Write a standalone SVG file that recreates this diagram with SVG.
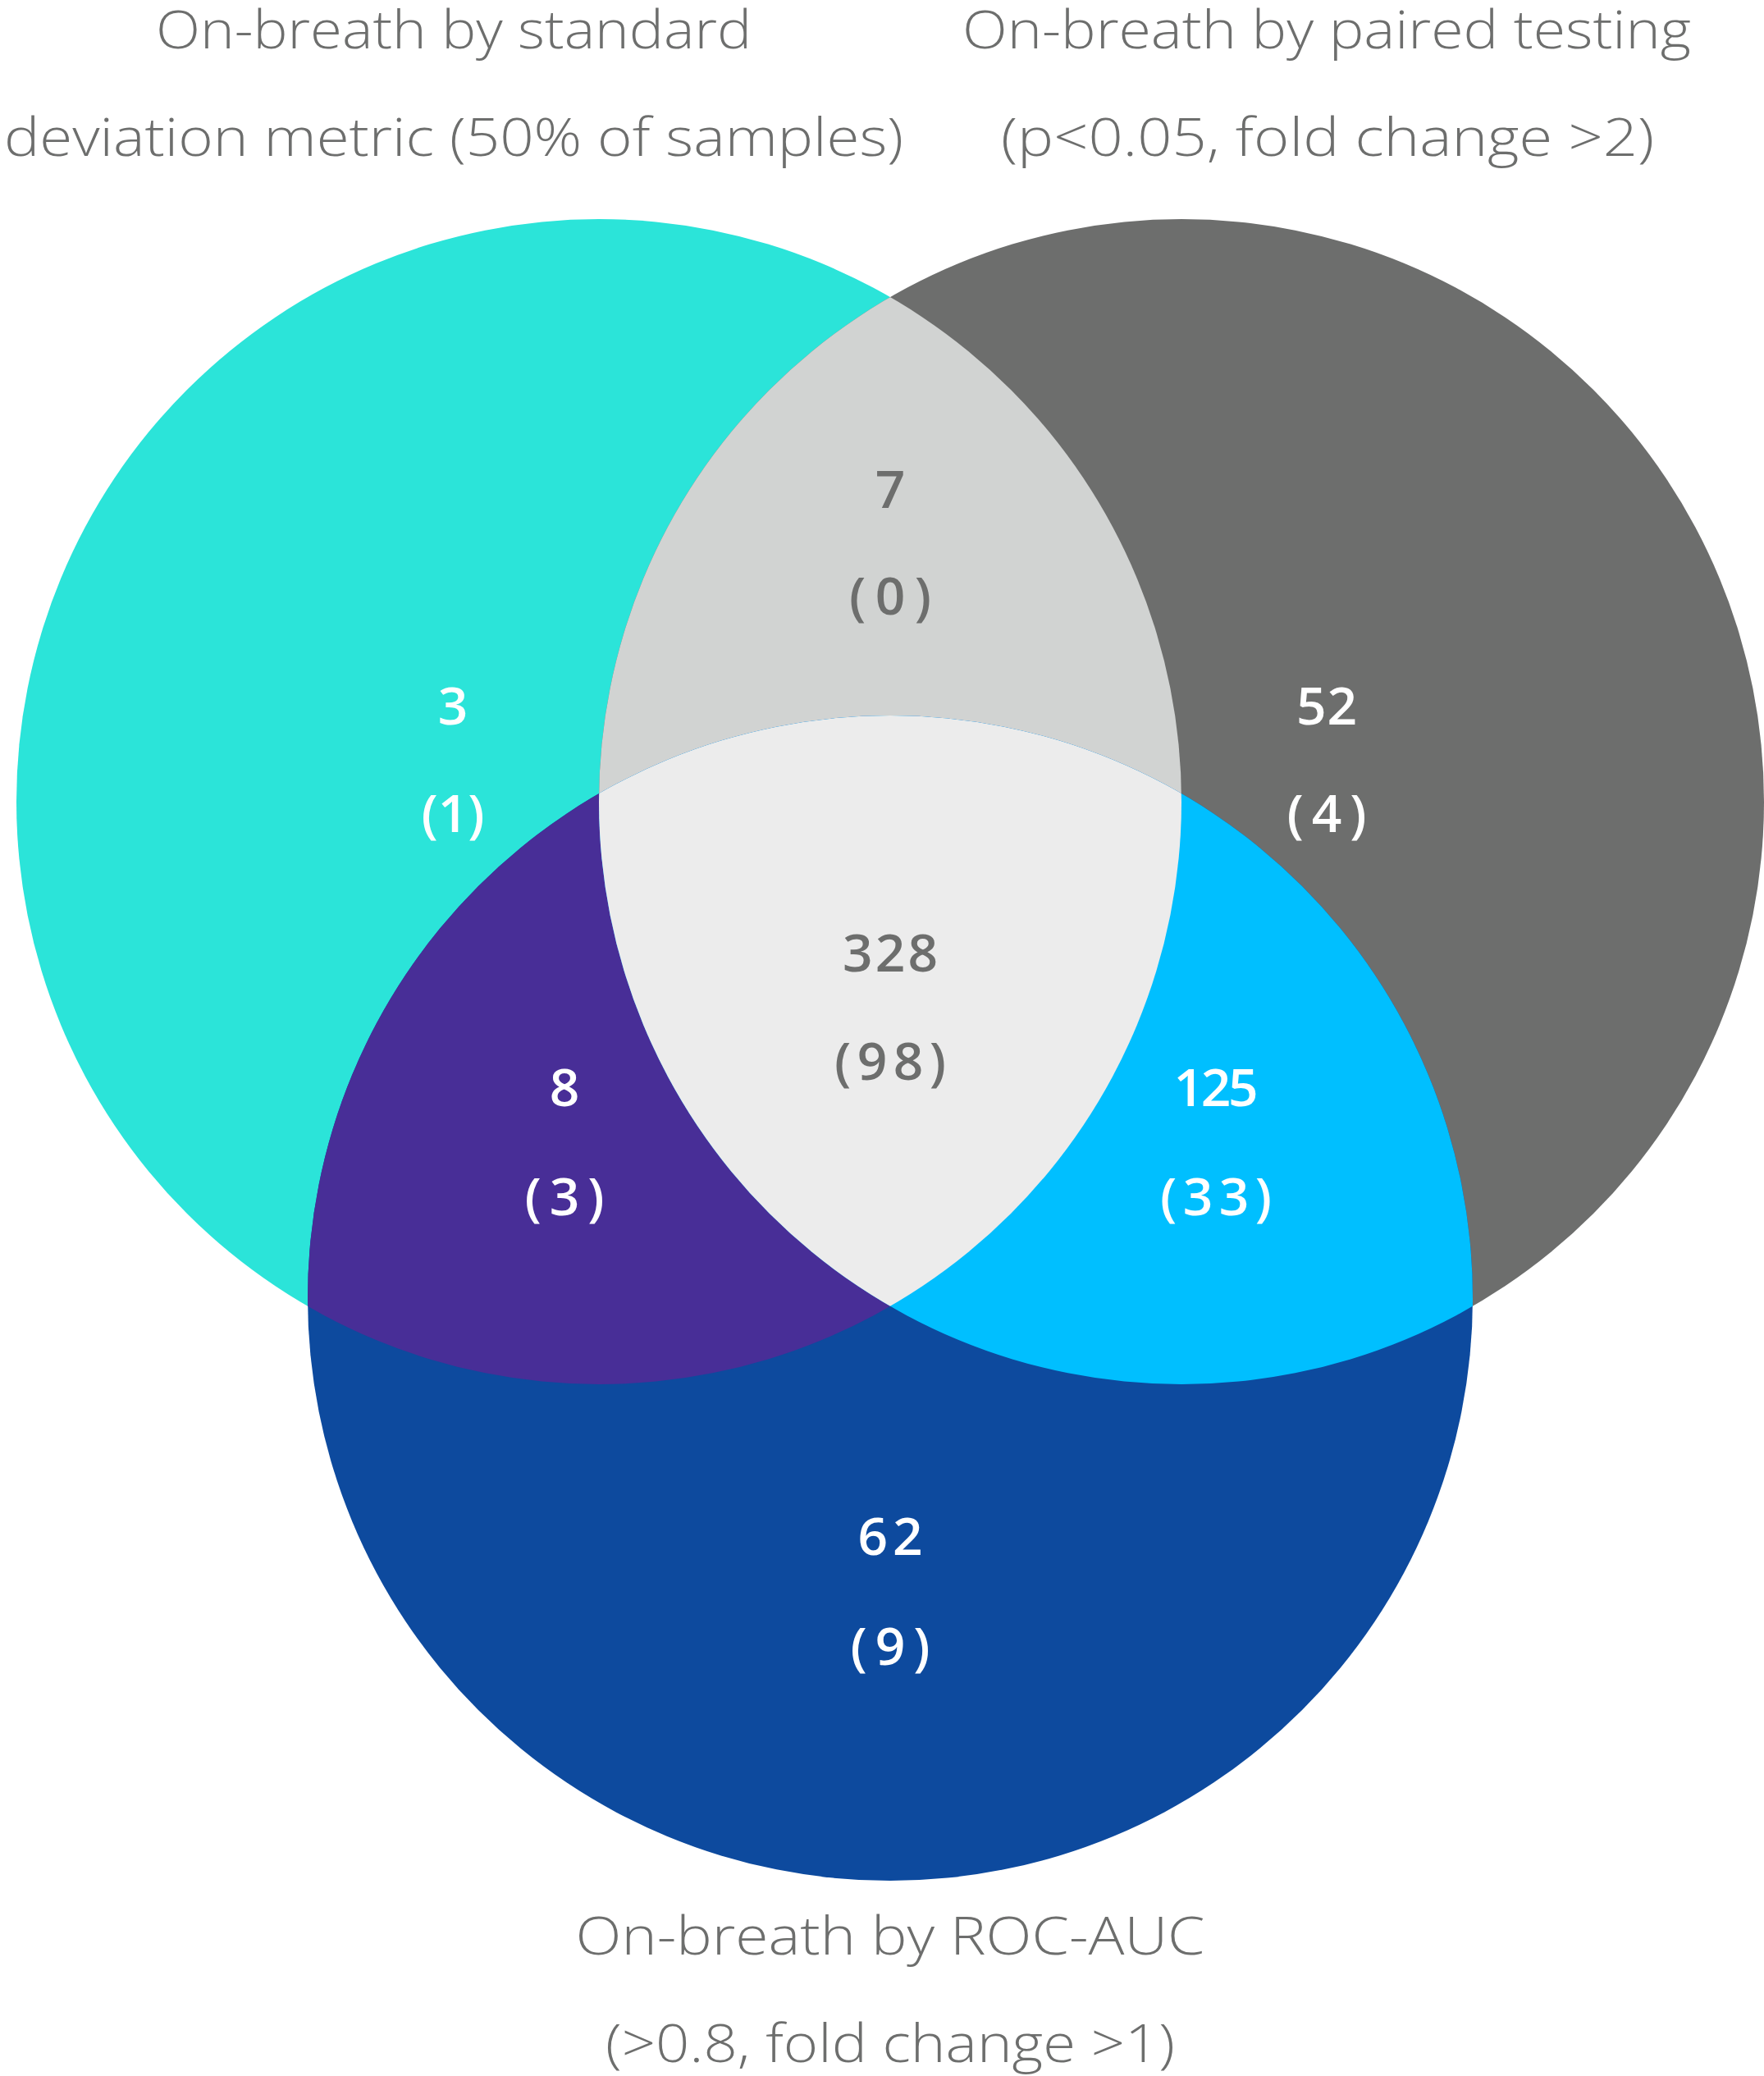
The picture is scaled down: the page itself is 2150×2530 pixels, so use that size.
<svg xmlns="http://www.w3.org/2000/svg" width="2150" height="2530" viewBox="0 0 2150 2530">
<style>
.title{font-family:"Open Sans","Liberation Sans",sans-serif;font-weight:300;font-size:64px;fill:#6d6e6d;text-anchor:middle}
.num{font-family:"Open Sans","Liberation Sans",sans-serif;font-weight:600;font-size:64px;text-anchor:middle}
.w{fill:#ffffff}
.g{fill:#6d6e6d}
</style>
<defs>
<clipPath id="clipA"><circle cx="730" cy="977" r="710"/></clipPath>
<clipPath id="clipB"><circle cx="1440" cy="977" r="710"/></clipPath>
</defs>
<rect width="2150" height="2530" fill="#ffffff"/>
<g id="circles">
<g id="setA"><circle cx="730" cy="977" r="710" fill="#2be4d9"/></g>
<g id="setB"><circle cx="1440" cy="977" r="710" fill="#6d6e6d"/></g>
<g id="setC"><circle cx="1085" cy="1582" r="710" fill="#0d4a9e"/></g>
<g id="regionAB" clip-path="url(#clipA)"><circle cx="1440" cy="977" r="710" fill="#d1d3d2"/></g>
<g id="regionAC" clip-path="url(#clipA)"><circle cx="1085" cy="1582" r="710" fill="#482e97"/></g>
<g id="regionBC" clip-path="url(#clipB)"><circle cx="1085" cy="1582" r="710" fill="#00bfff"/></g>
<g id="regionABC" clip-path="url(#clipA)"><g clip-path="url(#clipB)"><circle cx="1085" cy="1582" r="710" fill="#ececec"/></g></g>
</g>
<g id="connectors"></g>
<g id="labels">
<g id="titleA"><text class="title" x="553" y="59" textLength="726" lengthAdjust="spacingAndGlyphs">On-breath by standard</text><text class="title" x="553" y="190" textLength="1096" lengthAdjust="spacingAndGlyphs">deviation metric (50% of samples)</text></g>
<g id="titleB"><text class="title" x="1617" y="59" textLength="888" lengthAdjust="spacingAndGlyphs">On-breath by paired testing</text><text class="title" x="1618" y="190" textLength="796" lengthAdjust="spacingAndGlyphs">(p&lt;0.05, fold change &gt;2)</text></g>
<g id="titleC"><text class="title" x="1085" y="2382" textLength="767" lengthAdjust="spacingAndGlyphs">On-breath by ROC-AUC</text><text class="title" x="1085" y="2513" textLength="694" lengthAdjust="spacingAndGlyphs">(&gt;0.8, fold change &gt;1)</text></g>
<g id="lblA"><text class="num w" x="552" y="883">3</text><text class="num w" x="552" y="1014" textLength="77">(1)</text></g>
<g id="lblAB"><text class="num g" x="1085" y="619">7</text><text class="num g" x="1085" y="749" textLength="100">(0)</text></g>
<g id="lblB"><text class="num w" x="1617" y="883" textLength="74">52</text><text class="num w" x="1617" y="1014" textLength="97">(4)</text></g>
<g id="lblABC"><text class="num g" x="1085" y="1184" textLength="116">328</text><text class="num g" x="1085" y="1316" textLength="136">(98)</text></g>
<g id="lblAC"><text class="num w" x="688" y="1348">8</text><text class="num w" x="688" y="1481" textLength="97">(3)</text></g>
<g id="lblBC"><text class="num w" x="1482" y="1348" textLength="103">125</text><text class="num w" x="1482" y="1481" textLength="136">(33)</text></g>
<g id="lblC"><text class="num w" x="1085" y="1895" textLength="79">62</text><text class="num w" x="1085" y="2029" textLength="97">(9)</text></g>
</g>
</svg>
